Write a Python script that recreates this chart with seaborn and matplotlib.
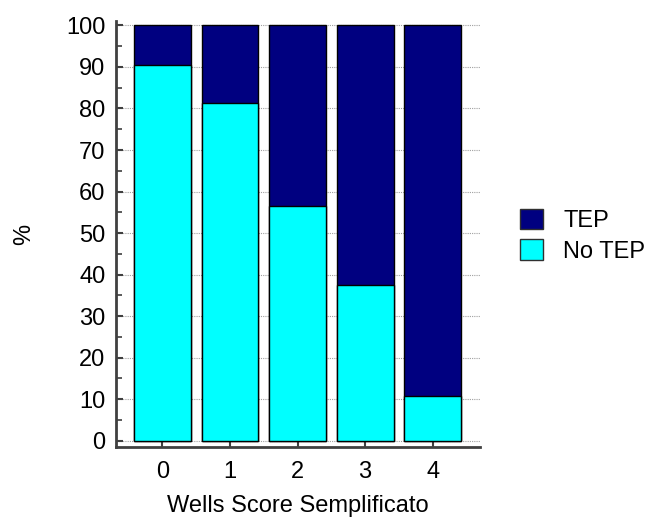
import numpy as np
import pandas as pd
import matplotlib
matplotlib.use("Agg")
import matplotlib.pyplot as plt
import seaborn as sns
from matplotlib.patches import Patch
from matplotlib.ticker import MultipleLocator

sns.set_theme(style="white")
plt.rcParams["font.family"] = ["Liberation Sans", "DejaVu Sans"]
plt.rcParams["text.color"] = "black"
plt.rcParams["axes.labelcolor"] = "black"
plt.rcParams["xtick.labelcolor"] = "black"
plt.rcParams["ytick.labelcolor"] = "black"

# data
scores = ["0", "1", "2", "3", "4"]
no_tep = [90.5, 81.2, 56.6, 37.6, 10.7]
tep = [100 - v for v in no_tep]

df = pd.DataFrame({"score": scores, "no_tep": no_tep, "total": [a + b for a, b in zip(no_tep, tep)]})

navy = "#000080"
cyan = "#00FFFF"
fs = 17

fig = plt.figure(figsize=(6.54, 5.18), dpi=100)
ax = fig.add_axes([0.178, 0.137, 0.556, 0.822])

# gridlines behind bars
ax.set_axisbelow(True)
ax.yaxis.grid(True, linestyle=(0, (1, 1)), color="#a0a0a0", linewidth=0.8)

sns.barplot(data=df, x="score", y="total", color=navy, width=0.84,
            edgecolor="black", linewidth=1, saturation=1, ax=ax)
sns.barplot(data=df, x="score", y="no_tep", color=cyan, width=0.84,
            edgecolor="black", linewidth=1, saturation=1, ax=ax)

ax.set_xlim(-0.68, 4.7)
ax.set_ylim(-1.5, 101)
ax.yaxis.set_major_locator(MultipleLocator(10))
ax.yaxis.set_minor_locator(MultipleLocator(5))

for s in ["top", "right"]:
    ax.spines[s].set_visible(False)
for s in ["left", "bottom"]:
    ax.spines[s].set_color("#404040")
    ax.spines[s].set_linewidth(2)

ax.tick_params(axis="y", which="major", left=True, direction="in", length=5, width=1.5,
               color="#404040", labelsize=fs, pad=8)
ax.tick_params(axis="y", which="minor", left=True, direction="in", length=4, width=1.2,
               color="#404040")
ax.tick_params(axis="x", which="major", bottom=True, direction="in", length=4, width=1.5,
               color="#404040", labelsize=fs, pad=10)

ax.set_xlabel("Wells Score Semplificato", fontsize=fs, labelpad=9)
ax.set_ylabel("%", fontsize=fs, labelpad=22)

handles = [Patch(facecolor=navy, edgecolor="#303030", label="TEP"),
           Patch(facecolor=cyan, edgecolor="#303030", label="No TEP")]
fig.legend(handles=handles, loc="center left", bbox_to_anchor=(0.762, 0.545),
           frameon=False, fontsize=fs, handlelength=1.0, handleheight=0.95,
           handletextpad=0.85, labelspacing=0.3)

fig.savefig("out.png", dpi=100)
